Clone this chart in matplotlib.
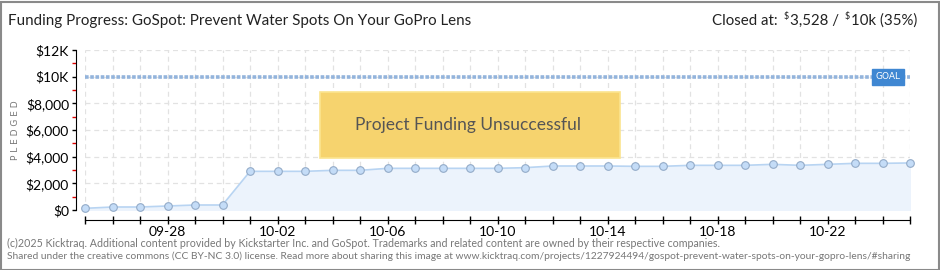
import matplotlib
matplotlib.use("Agg")
import matplotlib.pyplot as plt
from matplotlib.patches import Rectangle

# Data
dates = ["09-25", "09-26", "09-27", "09-28", "09-29", "09-30", "10-01", "10-02",
         "10-03", "10-04", "10-05", "10-06", "10-07", "10-08", "10-09", "10-10",
         "10-11", "10-12", "10-13", "10-14", "10-15", "10-16", "10-17", "10-18",
         "10-19", "10-20", "10-21", "10-22", "10-23", "10-24", "10-25"]
pledged = [125, 225, 225, 300, 375, 375, 2900, 2900, 2900, 2975, 2975, 3125,
           3125, 3125, 3125, 3125, 3175, 3300, 3300, 3300, 3275, 3275, 3350,
           3350, 3350, 3425, 3350, 3425, 3500, 3500, 3528]
goal = 10000
y_ticks = [0, 2000, 4000, 6000, 8000, 10000, 12000]
y_labels = ["\\$0", "\\$2,000", "\\$4,000", "\\$6,000", "\\$8,000", "\\$10K", "\\$12K"]
label_dates = ["09-28", "10-02", "10-06", "10-10", "10-14", "10-18", "10-22"]

plt.rcParams["font.family"] = ["Lato", "DejaVu Sans"]

fig = plt.figure(figsize=(9.4, 2.7), dpi=100)
fig.patch.set_facecolor("white")
W, H = 940, 270

# outer frame
fig.patches.append(Rectangle((0.5 / W, 0.5 / H), 1 - 2 / W, 1 - 2 / H,
                             transform=fig.transFigure, fill=False,
                             edgecolor="#8a8a8a", lw=1.5))

ax = fig.add_axes([85 / W, 1 - 210 / H, 825 / W, 160 / H])
x = list(range(len(dates)))

ax.fill_between(x, pledged, 0, color="#ecf3fc", zorder=1)
ax.plot(x, pledged, color="#b8d4f2", lw=1.2, zorder=2)
ax.plot(x, pledged, "o", ms=5.5, mfc="#c4dcf7", mec="#93abc8", mew=0.8,
        zorder=4, clip_on=False)

# goal line
ax.axhline(goal, color="#93b4dc", lw=2.6, dashes=(1.0, 0.45), zorder=3)
ax.text(29.2, goal, "GOAL", color="white", fontsize=6.5, ha="center",
        va="center", family="DejaVu Sans", zorder=6,
        bbox=dict(boxstyle="square,pad=0.4", fc="#3f87d2", ec="#3f87d2"))

ax.set_xlim(0, len(dates) - 1)
ax.set_ylim(0, 12000)

# grid
for xi in x:
    ax.axvline(xi, color="#e2e2e2", lw=0.9, ls=(0, (4, 3)), zorder=0)
for yt in y_ticks:
    ax.axhline(yt, color="#e2e2e2", lw=0.9, ls=(0, (4, 3)), zorder=0)

ax.set_yticks(y_ticks)
ax.set_yticklabels(y_labels, color="#707070", fontsize=8)
ax.set_yticks([1000, 3000, 5000, 7000, 9000, 11000], minor=True)
ax.tick_params(axis="y", which="minor", length=3, color="#dd0000", width=1)
ax.tick_params(axis="y", which="major", length=3, color="black", width=1, pad=2)

ax.set_xticks(x)
ax.set_xticklabels([d if d in label_dates else "" for d in dates],
                   color="#707070", fontsize=7.5)
ax.tick_params(axis="x", direction="inout", length=6, width=1, pad=1)

for s in ["top", "right"]:
    ax.spines[s].set_visible(False)
ax.spines["left"].set_position(("outward", 6.5))
ax.spines["bottom"].set_position(("outward", 7.2))
ax.spines["left"].set_bounds(0, 12000)

ax.set_ylabel("P L E D G E D", color="#777777", fontsize=6.5, family="DejaVu Sans")
ax.yaxis.set_label_coords(-65 / 825, 0.5)

# unsuccessful banner
ax.add_patch(Rectangle((8.55, 3900), 10.9, 4950, fc="#f6d36e", ec="#fbe48f",
                       lw=1.2, zorder=5))
ax.text(13.93, 6375, "Project Funding Unsuccessful", fontsize=12.5,
        color="#555555", ha="center", va="center", zorder=6)

# header
fig.text(8 / W, 1 - 21 / H, "Funding Progress: GoSpot: Prevent Water Spots On Your GoPro Lens",
         fontsize=10.9, color="#222222", va="center")

# "Closed at" with small superscript dollar signs
t = fig.text(712 / W, 1 - 21 / H, "Closed at:", fontsize=10.8, color="#222222",
             va="center")
pieces = [("\\$", 6.5, 4, 3), ("3,528 /", 10.8, 1, -3), ("\\$", 6.5, 4, 3),
          ("10k (35%)", 10.8, 1, -3)]
for txt, fs, dx, dy in pieces:
    t = ax.annotate(txt, xy=(1, 0.5), xycoords=t, xytext=(dx, dy),
                    textcoords="offset points", fontsize=fs, color="#222222",
                    va="center", ha="left", annotation_clip=False)

# footer
fig.text(7 / W, 1 - 243 / H,
         "(c)2025 Kicktraq. Additional content provided by Kickstarter Inc. and GoSpot. "
         "Trademarks and related content are owned by their respective companies.",
         fontsize=7.7, color="#777777", va="center")
fig.text(7 / W, 1 - 256 / H,
         "Shared under the creative commons (CC BY-NC 3.0) license. Read more about sharing "
         "this image at www.kicktraq.com/projects/1227924494/gospot-prevent-water-spots-on-your-gopro-lens/#sharing",
         fontsize=7.4, color="#777777", va="center")

fig.savefig("out.png", dpi=100)
